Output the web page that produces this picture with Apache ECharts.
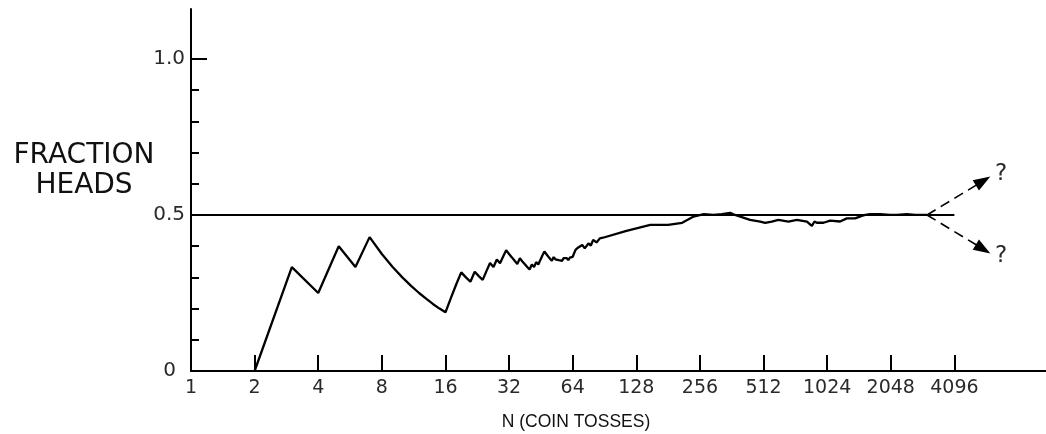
<!DOCTYPE html>
<html>
<head>
<meta charset="utf-8">
<script src="https://cdn.jsdelivr.net/npm/echarts@6/dist/echarts.min.js"></script>
<style>
  html, body { margin: 0; padding: 0; background: #fff; }
  #chart { width: 1046px; height: 434px; }
</style>
</head>
<body>
<div id="chart"></div>
<script>
// ---- data ----
const tossN = [2,3,4,5,6,7,8,9,10,11,12,13,14,15,16,17,18,19,20,21,22,23,24,25,26,27,28,29,30,31,32,33,34,35,36,37,38,39,40,41,42,43,44,45,46,47,48,49,50,51,52,53,54,55,56,57,58,59,60,61,62,63,64,66,68,69,71,73,76,78,80,83,86,89,115,149,181,211,239,267,297,325,356,375,442,494,521,560,602,672,736,821,867,892,915,984,1058,1179,1269,1389,1494,1552,1636,1822,2033,2189,2438,2672,3040];
const fracHeads = [0,0.333,0.25,0.4,0.333,0.429,0.375,0.333,0.3,0.273,0.25,0.231,0.214,0.2,0.188,0.235,0.278,0.316,0.3,0.286,0.318,0.304,0.292,0.32,0.346,0.333,0.357,0.345,0.367,0.387,0.375,0.364,0.353,0.343,0.361,0.351,0.342,0.333,0.325,0.341,0.333,0.349,0.341,0.356,0.37,0.383,0.375,0.367,0.36,0.353,0.365,0.358,0.363,0.355,0.36,0.353,0.362,0.356,0.362,0.355,0.363,0.357,0.366,0.388,0.396,0.39,0.404,0.393,0.409,0.402,0.42,0.412,0.425,0.427,0.449,0.468,0.468,0.475,0.495,0.503,0.5,0.503,0.507,0.5,0.484,0.479,0.475,0.479,0.484,0.479,0.484,0.479,0.465,0.479,0.475,0.475,0.482,0.479,0.489,0.489,0.497,0.5,0.503,0.503,0.5,0.5,0.503,0.5,0.5];
const xTickLabels = ['1','2','4','8','16','32','64','128','256','512','1024','2048','4096'];
const yTickLabels = {0: '0', 0.5: '0.5', 1: '1.0'};
const refLineN = [1, 4096];
const refLineValue = 0.5;
const arrowStart = [3040, 0.5];
const arrowUpEnd = [5600, 0.609];
const arrowDownEnd = [5600, 0.391];
const yLabel = ['FRACTION', 'HEADS'];
const xLabel = 'N (COIN TOSSES)';

const lg = v => Math.log2(v);
const xMax = 13.44;
const yMax = 1.16;

const chart = echarts.init(document.getElementById('chart'), null, { renderer: 'canvas' });
const lineData = tossN.map((n, i) => [lg(n), fracHeads[i]]);

const option = {
  animation: false,
  backgroundColor: '#fff',
  grid: { left: 191, right: 0, top: 9, bottom: 63, containLabel: false },
  xAxis: {
    type: 'value', min: 0, max: xMax, interval: 1,
    axisLine: { show: true, lineStyle: { color: '#000', width: 2 } },
    axisTick: { show: true, inside: true, length: 16, lineStyle: { color: '#000', width: 2 },
      customValues: [1,2,3,4,5,6,7,8,9,10,11,12] },
    axisLabel: { show: true, margin: 8, color: '#2a2a2a', fontFamily: 'DejaVu Sans', fontSize: 19,
      customValues: [0,1,2,3,4,5,6,7,8,9,10,11,12],
      formatter: v => xTickLabels[Math.round(v)] || '' },
    splitLine: { show: false }
  },
  yAxis: [{
    type: 'value', min: 0, max: yMax, interval: 0.1,
    axisLine: { show: true, lineStyle: { color: '#000', width: 2 } },
    axisTick: { show: true, inside: true, length: 8, lineStyle: { color: '#000', width: 2 },
      customValues: [0.1,0.2,0.3,0.4,0.6,0.7,0.8,0.9] },
    axisLabel: { show: true, margin: 6, color: '#2a2a2a', fontFamily: 'DejaVu Sans', fontSize: 20,
      customValues: [0, 0.5, 1],
      formatter: v => {
        const k = Math.round(v * 10) / 10;
        if (k === 0) return '{z|0}';
        return yTickLabels[k] || '';
      },
      rich: { z: { padding: [0, 9, 0, 0], fontFamily: 'DejaVu Sans', fontSize: 20, color: '#2a2a2a' } }
    },
    splitLine: { show: false }
  }, {
    type: 'value', min: 0, max: yMax, position: 'left',
    axisLine: { show: false },
    axisTick: { show: true, inside: true, length: 16, lineStyle: { color: '#000', width: 2 }, customValues: [1] },
    axisLabel: { show: false },
    splitLine: { show: false }
  }],
  graphic: [
    { type: 'text', x: 84, y: 156, style: { text: yLabel[0], textAlign: 'center', textVerticalAlign: 'middle',
      font: '28px "DejaVu Sans"', fill: '#111' } },
    { type: 'text', x: 84, y: 186, style: { text: yLabel[1], textAlign: 'center', textVerticalAlign: 'middle',
      font: '28px "DejaVu Sans"', fill: '#111' } },
    { type: 'text', x: 576, y: 422, style: { text: xLabel, textAlign: 'center', textVerticalAlign: 'middle',
      font: '17.5px "Liberation Sans"', fill: '#111' } }
  ],
  series: [
    {
      type: 'line', data: refLineN.map(n => [lg(n), refLineValue]), showSymbol: false, symbol: 'none',
      lineStyle: { color: '#000', width: 2 }, silent: true
    },
    {
      type: 'line', data: lineData, showSymbol: false, symbol: 'none',
      lineStyle: { color: '#000', width: 2.3 }, silent: true,
      markLine: {
        silent: true, animation: false,
        symbol: ['none', 'triangle'], symbolSize: [12, 17],
        itemStyle: { color: '#000' },
        lineStyle: { color: '#000', width: 1.6, type: [10, 6] },
        label: { show: true, position: 'end', distance: 14, formatter: '?', color: '#2a2a2a',
          fontFamily: 'DejaVu Sans', fontSize: 23 },
        data: [
          [{ coord: [lg(arrowStart[0]), arrowStart[1]] }, { coord: [lg(arrowUpEnd[0]), arrowUpEnd[1]] }],
          [{ coord: [lg(arrowStart[0]), arrowStart[1]] }, { coord: [lg(arrowDownEnd[0]), arrowDownEnd[1]] }]
        ]
      }
    }
  ]
};
chart.setOption(option);
</script>
</body>
</html>
